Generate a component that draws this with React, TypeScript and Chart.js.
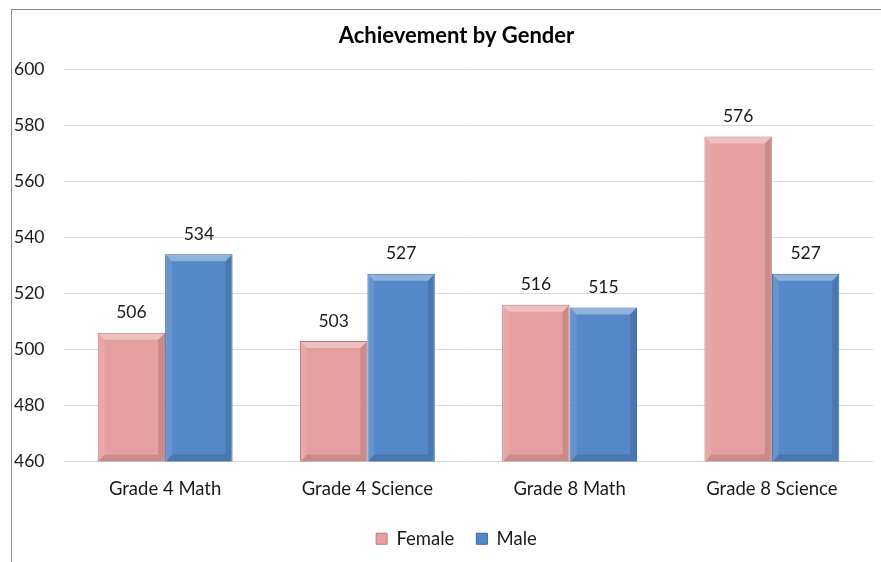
import React, { useEffect, useRef } from "react";
import { Chart, registerables } from "chart.js";

Chart.register(...registerables);

const categories = ["Grade 4 Math", "Grade 4 Science", "Grade 8 Math", "Grade 8 Science"];
const femaleValues = [506, 503, 516, 576];
const maleValues = [534, 527, 515, 527];
const seriesNames = ["Female", "Male"];
const yMin = 460;
const yMax = 600;
const yStep = 20;

const FONT = "Lato, 'Open Sans', sans-serif";

const framePlugin = {
  id: "frame",
  beforeDraw(chart: any) {
    const ctx = chart.ctx;
    ctx.save();
    ctx.fillStyle = "#ffffff";
    ctx.fillRect(0, 0, chart.width, chart.height);
    ctx.strokeStyle = "#8c8c8c";
    ctx.lineWidth = 1;
    ctx.strokeRect(11.5, 9.5, chart.width + 20, chart.height + 20);
    ctx.restore();
  },
};

const bevelPlugin = {
  id: "bevel",
  afterDatasetsDraw(chart: any) {
    const ctx = chart.ctx;
    const area = chart.chartArea;
    ctx.save();
    chart.data.datasets.forEach((ds: any, di: number) => {
      const meta = chart.getDatasetMeta(di);
      meta.data.forEach((bar: any, i: number) => {
        const { x, y, base, width } = bar.getProps(["x", "y", "base", "width"], true);
        const l = x - width / 2;
        const r = x + width / 2;
        const t = y;
        const b = Math.min(base, area.bottom);
        const bv = 7;
        const poly = (pts: number[][], fill: string) => {
          ctx.beginPath();
          ctx.moveTo(pts[0][0], pts[0][1]);
          for (let k = 1; k < pts.length; k++) ctx.lineTo(pts[k][0], pts[k][1]);
          ctx.closePath();
          ctx.fillStyle = fill;
          ctx.fill();
        };
        poly([[l + 1, t + 1], [r - 1, t + 1], [r - bv, t + bv], [l + bv, t + bv]], "rgba(255,255,255,0.35)");
        poly([[l + 1, t + 1], [l + bv, t + bv], [l + bv, b - bv], [l + 1, b]], "rgba(255,255,255,0.10)");
        poly([[r - 1, t + 1], [r - 1, b], [r - bv, b - bv], [r - bv, t + bv]], "rgba(0,0,0,0.12)");
        poly([[l + 1, b], [r - 1, b], [r - bv, b - bv], [l + bv, b - bv]], "rgba(0,0,0,0.12)");
        // value label
        ctx.fillStyle = "#1a1a1a";
        ctx.font = `17.5px ${FONT}`;
        ctx.textAlign = "center";
        ctx.textBaseline = "middle";
        ctx.fillText(String(ds.data[i]), x, t - 20);
      });
    });
    ctx.restore();
  },
};

export default function App() {
  const ref = useRef<HTMLCanvasElement | null>(null);

  useEffect(() => {
    if (!ref.current) return;
    const chart = new Chart(ref.current, {
      type: "bar",
      data: {
        labels: categories,
        datasets: [
          {
            label: seriesNames[0],
            data: femaleValues,
            backgroundColor: "#E59F9E",
            borderColor: "#B97876",
            borderWidth: 1,
            categoryPercentage: 0.667,
            barPercentage: 1,
          },
          {
            label: seriesNames[1],
            data: maleValues,
            backgroundColor: "#5588C8",
            borderColor: "#3A65A0",
            borderWidth: 1,
            categoryPercentage: 0.667,
            barPercentage: 1,
          },
        ],
      },
      options: {
        responsive: false,
        animation: false,
        devicePixelRatio: 1,
        layout: { padding: { left: 14, right: 0, top: 0, bottom: 4 } },
        plugins: {
          title: {
            display: true,
            text: "Achievement by Gender",
            color: "#000000",
            font: { family: FONT, size: 22, weight: "bold" },
            padding: { top: 23, bottom: 20 },
          },
          legend: {
            display: true,
            position: "bottom",
            labels: {
              boxWidth: 11,
              boxHeight: 11,
              color: "#1a1a1a",
              font: { family: FONT, size: 18.5 },
              padding: 22,
            },
          },
          tooltip: { enabled: false },
        },
        scales: {
          x: {
            grid: { display: false, drawTicks: false },
            border: { display: false },
            ticks: { color: "#1a1a1a", font: { family: FONT, size: 18.5 }, padding: 16 },
            afterFit: (s: any) => {
              s.height = 46;
            },
          },
          y: {
            min: yMin,
            max: yMax,
            position: "left",
            grid: { color: "#D9D9D9", drawTicks: false },
            border: { display: false },
            ticks: {
              stepSize: yStep,
              color: "#1a1a1a",
              font: { family: FONT, size: 17.5 },
              crossAlign: "far",
              padding: 0,
            },
            afterFit: (s: any) => {
              s.width = 50;
            },
          },
          y2: {
            position: "right",
            min: 0,
            max: 1,
            grid: { display: false },
            border: { display: false },
            ticks: { display: false },
            afterFit: (s: any) => {
              s.width = 26;
            },
          },
        },
      },
      plugins: [framePlugin, bevelPlugin],
    } as any);
    return () => chart.destroy();
  }, []);

  return (
    <div style={{ position: "absolute", left: 0, top: 0, width: 881, height: 562, overflow: "hidden", background: "#fff" }}>
      <canvas ref={ref} width={899} height={562} style={{ display: "block" }} />
    </div>
  );
}
